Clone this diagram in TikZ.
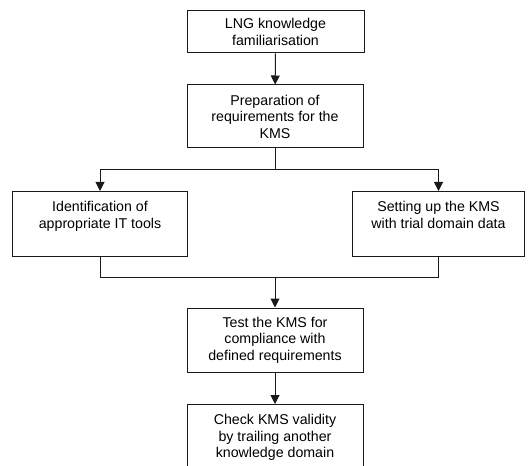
\documentclass[tikz,border=0pt]{standalone}
\usepackage{fontspec}
\setmainfont{Liberation Sans}
\usetikzlibrary{arrows.meta}
\begin{document}
\begin{tikzpicture}[x=1bp,y=-1bp,
  box/.style={draw=black!90, line width=1bp, inner sep=0pt, align=center,
    font=\fontsize{14.2bp}{16.5bp}\selectfont},
  conn/.style={draw=black!90, line width=1bp},
  arr/.style={conn, -{Triangle[width=9bp,length=9bp]}}]
\useasboundingbox (0,0) rectangle (531,466);
\clip (0,0) rectangle (531,466);
\fill[white] (0,0) rectangle (531,466);
\node[box, minimum width=177bp, minimum height=42bp] (b1) at (275.5,32) {LNG knowledge\\familiarisation};
\node[box, minimum width=176bp, minimum height=63bp] (b2) at (275,116.5) {Preparation of\\requirements for the\\KMS};
\node[box, anchor=north west] (b3) at (12,191)
  {\parbox[b][65bp][t]{175bp}{\centering\vspace{10bp}Identification of\\appropriate IT tools}};
\node[box, anchor=north west] (b4) at (352,191)
  {\parbox[b][65bp][t]{172bp}{\centering\vspace{10bp}Setting up the KMS\\with trial domain data}};
\node[box, minimum width=176bp, minimum height=64bp] (b5) at (275,340) {Test the KMS for\\compliance with\\defined requirements};
\node[box, anchor=north, minimum width=176bp] (b6) at (275,404)
  {\parbox[b][80bp][t]{176bp}{\centering\vspace{10bp}Check KMS validity\\by trailing another\\knowledge domain}};
\coordinate (split) at (275,170);
\coordinate (join) at (275,277);
\draw[arr] (b1) -- (b2);
\draw[conn] (b2) -- (split);
\draw[arr] (split) -| (b3.north);
\draw[arr] (split) -| (b4.north);
\draw[conn] (b3.south) |- (join);
\draw[conn] (b4.south) |- (join);
\draw[arr] (join) -- (b5.north);
\draw[arr] (b5) -- (b6.north);
\end{tikzpicture}
\end{document}
